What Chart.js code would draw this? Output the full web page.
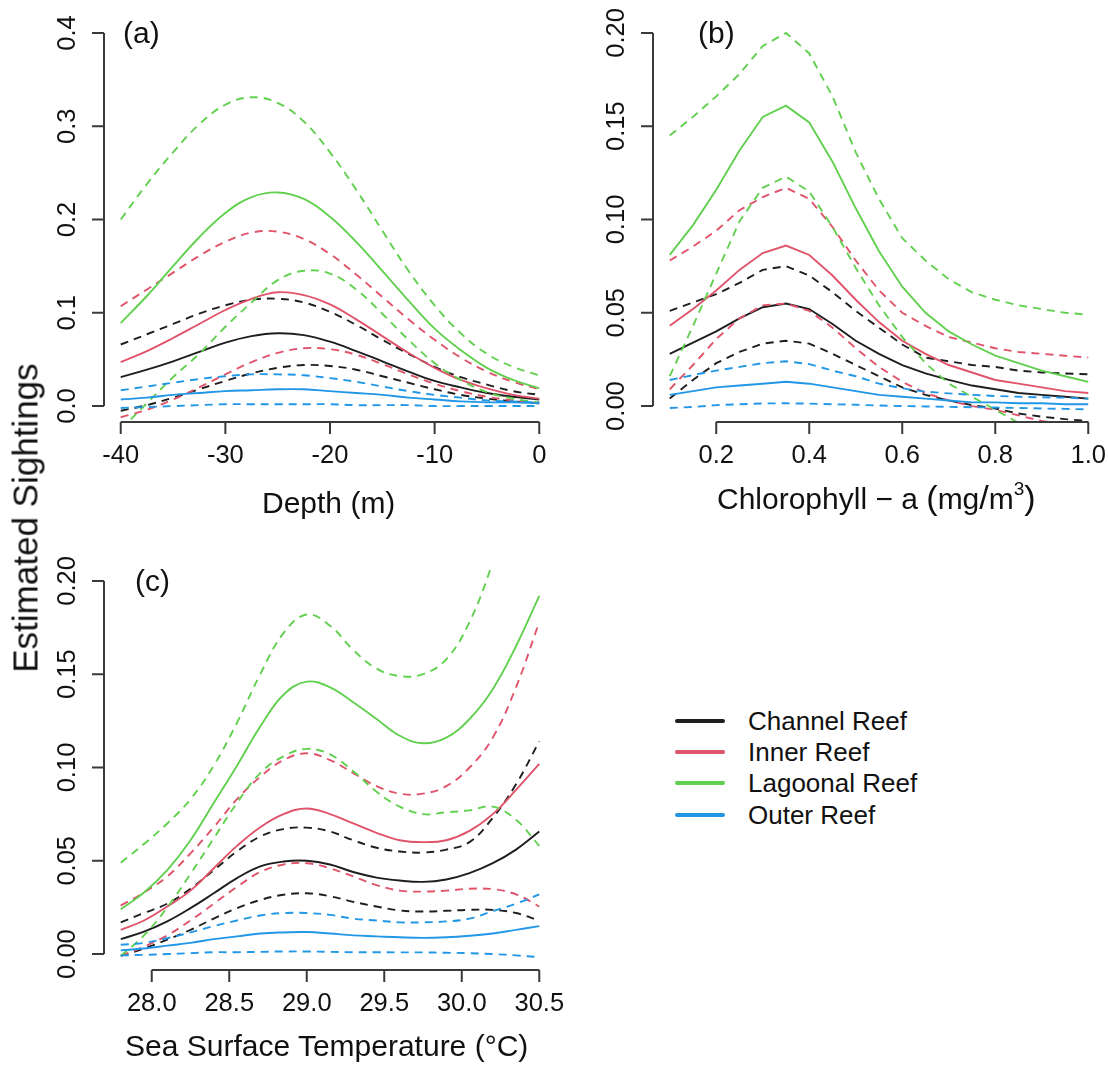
<!DOCTYPE html>
<html><head><meta charset="utf-8">
<script src="https://cdn.jsdelivr.net/npm/chart.js@4.4.1/dist/chart.umd.min.js"></script>
<style>
html,body{margin:0;padding:0;background:#fff;}
#wrap{position:relative;width:1108px;height:1068px;overflow:hidden;font-family:"Liberation Sans",Arial,Helvetica,sans-serif;color:#111;}
canvas{position:absolute;}
.t{position:absolute;white-space:nowrap;line-height:1;transform:translateY(-50%);}
.sw{position:absolute;width:50px;height:4px;border-radius:2px;}
</style></head><body><div id="wrap">
<canvas id="ca" width="560" height="540" style="left:0;top:0"></canvas>
<canvas id="cb" width="548" height="540" style="left:560px;top:0"></canvas>
<canvas id="cc" width="600" height="528" style="left:0;top:540px"></canvas>
<div class="t" style="left:123px;top:33px;font-size:30px">(a)</div>
<div class="t" style="left:698px;top:33px;font-size:30px">(b)</div>
<div class="t" style="left:135px;top:581px;font-size:30px">(c)</div>
<div class="t" style="left:262px;top:503px;font-size:30px">Depth (m)</div>
<div class="t" style="left:717px;top:496px;font-size:30px">Chlorophyll − a <span style="font-size:34px">(</span>mg<span style="font-size:34px">/</span>m<sup style="font-size:19px;vertical-align:14px">3</sup><span style="font-size:34px">)</span></div>
<div class="t" style="left:125px;top:1046px;font-size:30px">Sea Surface Temperature (°C)</div>
<div style="position:absolute;left:25px;top:518px;width:0;height:0;">
  <div style="position:absolute;left:0;top:0;transform:translate(-50%,-50%) rotate(-90deg);white-space:nowrap;font-size:35px;line-height:1;">Estimated Sightings</div>
</div>
<div id="legend"></div>
</div>
<script>
// ---------- categories / x values ----------
const reefNames = ["Channel Reef", "Inner Reef", "Lagoonal Reef", "Outer Reef"];
const reefColors = ["#1e1e1e", "#DF536B", "#61D04F", "#2297E6"];

const depthX = [-40,-37.5,-35,-32.5,-30,-27.5,-25,-22.5,-20,-17.5,-15,-12.5,-10,-7.5,-5,-2.5,0];
const chlX = [0.1,0.15,0.2,0.25,0.3,0.35,0.4,0.45,0.5,0.55,0.6,0.65,0.7,0.75,0.8,0.85,0.9,0.95,1.0];
const sstX = [27.8,27.95,28.1,28.25,28.4,28.55,28.7,28.85,29.0,29.15,29.3,29.45,29.6,29.75,29.9,30.05,30.2,30.35,30.5];

// ---------- tick labels ----------
const depthTicks = [-40,-30,-20,-10,0];
const depthTickLabels = ["-40","-30","-20","-10","0"];
const depthYTicks = [0,0.1,0.2,0.3,0.4];
const depthYTickLabels = ["0.0","0.1","0.2","0.3","0.4"];
const chlTicks = [0.2,0.4,0.6,0.8,1.0];
const chlTickLabels = ["0.2","0.4","0.6","0.8","1.0"];
const chlYTicks = [0,0.05,0.1,0.15,0.2];
const chlYTickLabels = ["0.00","0.05","0.10","0.15","0.20"];
const sstTicks = [28.0,28.5,29.0,29.5,30.0,30.5];
const sstTickLabels = ["28.0","28.5","29.0","29.5","30.0","30.5"];
const sstYTicks = [0,0.05,0.1,0.15,0.2];
const sstYTickLabels = ["0.00","0.05","0.10","0.15","0.20"];

// ---------- (a) Depth ----------
const depthChannelFit = [0.031,0.039,0.048,0.058,0.068,0.075,0.078,0.076,0.069,0.059,0.048,0.037,0.027,0.020,0.014,0.010,0.007];
const depthChannelHi  = [0.066,0.077,0.088,0.099,0.108,0.114,0.115,0.111,0.101,0.087,0.071,0.056,0.042,0.031,0.023,0.016,0.012];
const depthChannelLo  = [-0.005,0.001,0.009,0.018,0.027,0.035,0.041,0.044,0.043,0.039,0.032,0.025,0.018,0.012,0.008,0.005,0.003];
const depthInnerFit   = [0.047,0.059,0.073,0.088,0.103,0.115,0.122,0.119,0.109,0.093,0.075,0.057,0.041,0.028,0.019,0.012,0.008];
const depthInnerHi    = [0.107,0.125,0.143,0.161,0.176,0.186,0.187,0.179,0.163,0.141,0.117,0.093,0.071,0.052,0.037,0.026,0.018];
const depthInnerLo    = [-0.012,-0.004,0.007,0.020,0.034,0.047,0.057,0.062,0.061,0.055,0.045,0.034,0.024,0.016,0.010,0.006,0.003];
const depthLagoonFit  = [0.089,0.118,0.150,0.181,0.207,0.224,0.229,0.222,0.203,0.176,0.145,0.113,0.083,0.060,0.041,0.028,0.019];
const depthLagoonHi   = [0.200,0.238,0.272,0.302,0.323,0.331,0.325,0.305,0.272,0.232,0.188,0.145,0.108,0.078,0.056,0.042,0.033];
const depthLagoonLo   = [-0.025,0.003,0.031,0.056,0.085,0.111,0.135,0.145,0.142,0.125,0.099,0.071,0.046,0.028,0.015,0.008,0.004];
const depthOuterFit   = [0.007,0.009,0.012,0.014,0.016,0.017,0.018,0.018,0.016,0.014,0.012,0.009,0.007,0.005,0.004,0.004,0.003];
const depthOuterHi    = [0.017,0.021,0.025,0.029,0.032,0.034,0.034,0.033,0.030,0.026,0.021,0.016,0.012,0.009,0.006,0.005,0.004];
const depthOuterLo    = [-0.002,-0.001,0.000,0.001,0.002,0.002,0.002,0.002,0.002,0.001,0.001,0.001,0.000,0.000,0.000,0.000,0.000];

// ---------- (b) Chlorophyll-a ----------
const chlChannelFit = [0.028,0.034,0.040,0.047,0.053,0.055,0.052,0.044,0.035,0.028,0.022,0.0175,0.014,0.011,0.009,0.007,0.006,0.005,0.004];
const chlChannelHi  = [0.051,0.0555,0.060,0.066,0.073,0.075,0.070,0.061,0.051,0.042,0.033,0.026,0.024,0.022,0.021,0.019,0.018,0.0175,0.017];
const chlChannelLo  = [0.004,0.014,0.023,0.029,0.0335,0.035,0.0335,0.028,0.022,0.016,0.010,0.006,0.003,0.0005,-0.0013,-0.004,-0.0057,-0.007,-0.008];
const chlInnerFit   = [0.043,0.052,0.062,0.073,0.082,0.086,0.081,0.070,0.057,0.045,0.035,0.028,0.022,0.018,0.014,0.012,0.010,0.008,0.007];
const chlInnerHi    = [0.078,0.0855,0.094,0.105,0.112,0.117,0.111,0.096,0.078,0.062,0.050,0.043,0.037,0.034,0.031,0.029,0.028,0.027,0.026];
const chlInnerLo    = [0.009,0.022,0.036,0.047,0.054,0.055,0.051,0.042,0.031,0.021,0.013,0.007,0.003,0.000,-0.002,-0.005,-0.008,-0.010,-0.012];
const chlLagoonFit  = [0.081,0.097,0.116,0.137,0.155,0.161,0.152,0.131,0.106,0.083,0.064,0.050,0.040,0.033,0.027,0.023,0.019,0.016,0.013];
const chlLagoonHi   = [0.145,0.155,0.166,0.178,0.193,0.200,0.189,0.166,0.136,0.111,0.090,0.078,0.068,0.061,0.057,0.054,0.052,0.050,0.049];
const chlLagoonLo   = [0.016,0.043,0.071,0.099,0.117,0.123,0.115,0.096,0.074,0.054,0.037,0.023,0.012,0.005,-0.002,-0.009,-0.016,-0.022,-0.028];
const chlOuterFit   = [0.006,0.008,0.010,0.011,0.012,0.013,0.012,0.010,0.008,0.006,0.005,0.004,0.003,0.002,0.002,0.0015,0.0015,0.001,0.001];
const chlOuterHi    = [0.014,0.0166,0.019,0.021,0.023,0.024,0.0225,0.019,0.016,0.012,0.0095,0.0077,0.0068,0.006,0.0054,0.005,0.0047,0.0045,0.004];
const chlOuterLo    = [-0.001,-0.0005,0.0005,0.001,0.0014,0.0015,0.0013,0.001,0.0007,0.0003,0.0,-0.0002,-0.0004,-0.0006,-0.0008,-0.001,-0.0013,-0.0015,-0.0018];

// ---------- (c) Sea surface temperature ----------
const sstChannelFit = [0.008,0.012,0.0175,0.0246,0.0326,0.0407,0.047,0.0496,0.050,0.048,0.044,0.041,0.0394,0.0387,0.040,0.0434,0.0487,0.056,0.0657];
const sstChannelHi  = [0.017,0.022,0.027,0.035,0.045,0.055,0.063,0.067,0.0678,0.0657,0.061,0.057,0.055,0.0544,0.056,0.060,0.073,0.091,0.114];
const sstChannelLo  = [-0.001,0.003,0.0077,0.013,0.019,0.0246,0.029,0.0318,0.0326,0.031,0.028,0.0255,0.0234,0.0228,0.0232,0.0237,0.0237,0.022,0.018];
const sstInnerFit   = [0.013,0.018,0.0255,0.034,0.046,0.058,0.068,0.075,0.078,0.075,0.070,0.065,0.061,0.060,0.061,0.066,0.075,0.088,0.102];
const sstInnerHi    = [0.026,0.033,0.0416,0.054,0.068,0.083,0.095,0.104,0.1076,0.104,0.097,0.090,0.086,0.086,0.090,0.100,0.116,0.143,0.178];
const sstInnerLo    = [-0.001,0.004,0.010,0.018,0.027,0.036,0.044,0.048,0.0487,0.046,0.0416,0.037,0.034,0.0335,0.034,0.035,0.0348,0.032,0.0255];
const sstLagoonFit  = [0.024,0.033,0.045,0.061,0.081,0.101,0.122,0.139,0.146,0.143,0.135,0.126,0.117,0.113,0.116,0.126,0.142,0.165,0.192];
const sstLagoonHi   = [0.049,0.059,0.070,0.083,0.101,0.124,0.150,0.172,0.182,0.176,0.163,0.153,0.149,0.150,0.158,0.178,0.210,0.250,0.290];
const sstLagoonLo   = [-0.001,0.010,0.025,0.043,0.062,0.081,0.097,0.106,0.110,0.107,0.098,0.087,0.079,0.075,0.076,0.077,0.079,0.072,0.058];
const sstOuterFit   = [0.002,0.003,0.0045,0.006,0.008,0.0095,0.011,0.0116,0.0118,0.011,0.010,0.0095,0.009,0.0087,0.009,0.0098,0.011,0.013,0.015];
const sstOuterHi    = [0.005,0.006,0.0085,0.0116,0.015,0.018,0.0207,0.022,0.022,0.021,0.019,0.018,0.017,0.017,0.0175,0.019,0.023,0.027,0.032];
const sstOuterLo    = [-0.0007,-0.0004,0.0,0.0005,0.001,0.001,0.0012,0.0014,0.0014,0.0012,0.001,0.001,0.0009,0.0009,0.0007,0.0005,0.0,-0.0007,-0.0016];

// ---------- build ----------
const FONT = '"Liberation Sans", Arial, Helvetica, sans-serif';
const AXIS_COLOR = '#3a3a3a';

function toXY(xs, ys){ return xs.map((x,i)=>({x:x, y:ys[i]})); }

function makeDatasets(xs, series, tension){
  const ds = [];
  for (let r = series.length - 1; r >= 0; r--) {
    const [fit, hi, lo] = series[r];
    const c = reefColors[r];
    ds.push({label: reefNames[r]+' upper', data: toXY(xs, hi), borderColor: c, borderWidth: 1.9, borderDash: [8,6], pointRadius: 0, tension: tension, fill: false});
    ds.push({label: reefNames[r]+' lower', data: toXY(xs, lo), borderColor: c, borderWidth: 1.9, borderDash: [8,6], pointRadius: 0, tension: tension, fill: false});
    ds.push({label: reefNames[r], data: toXY(xs, fit), borderColor: c, borderWidth: 1.9, pointRadius: 0, tension: tension, fill: false});
  }
  return ds;
}

function rAxes(xt, xl, yt, yl){
  return {
    id: 'rAxes',
    afterDraw(chart){
      const {ctx, chartArea, scales} = chart;
      const xs = scales.x, ys = scales.y;
      const TICK = 12;
      ctx.save();
      ctx.strokeStyle = AXIS_COLOR; ctx.lineWidth = 2; ctx.lineCap = 'butt';
      const by = chartArea.bottom + 1, lx = chartArea.left;
      ctx.beginPath();
      ctx.moveTo(xs.getPixelForValue(xt[0]), by);
      ctx.lineTo(xs.getPixelForValue(xt[xt.length-1]), by);
      xt.forEach(v => { const p = xs.getPixelForValue(v); ctx.moveTo(p, by); ctx.lineTo(p, by + TICK); });
      ctx.moveTo(lx, ys.getPixelForValue(yt[0]));
      ctx.lineTo(lx, ys.getPixelForValue(yt[yt.length-1]));
      yt.forEach(v => { const p = ys.getPixelForValue(v); ctx.moveTo(lx, p); ctx.lineTo(lx - TICK, p); });
      ctx.stroke();
      ctx.fillStyle = '#111';
      ctx.font = '25.5px ' + FONT;
      ctx.textAlign = 'center'; ctx.textBaseline = 'middle';
      xt.forEach((v,i) => ctx.fillText(xl[i], xs.getPixelForValue(v), by + 34));
      yt.forEach((v,i) => {
        ctx.save();
        ctx.translate(lx - 36, ys.getPixelForValue(v));
        ctx.rotate(-Math.PI/2);
        ctx.fillText(yl[i], 0, 0);
        ctx.restore();
      });
      ctx.restore();
    }
  };
}

function makeChart(id, xs, series, tension, xr, yr, pad, ticks){
  return new Chart(document.getElementById(id), {
    type: 'line',
    data: { datasets: makeDatasets(xs, series, tension) },
    options: {
      responsive: false, animation: false, devicePixelRatio: 1,
      layout: { padding: pad },
      plugins: { legend: {display: false}, tooltip: {enabled: false}, title: {display: false} },
      events: [],
      scales: {
        x: { type: 'linear', min: xr[0], max: xr[1], display: false },
        y: { type: 'linear', min: yr[0], max: yr[1], display: false }
      }
    },
    plugins: [rAxes(ticks[0], ticks[1], ticks[2], ticks[3])]
  });
}

makeChart('ca', depthX, [
  [depthChannelFit, depthChannelHi, depthChannelLo],
  [depthInnerFit, depthInnerHi, depthInnerLo],
  [depthLagoonFit, depthLagoonHi, depthLagoonLo],
  [depthOuterFit, depthOuterHi, depthOuterLo]
], 0.4, [-41.6, 1.6], [-0.016, 0.416], {left:104, top:18, right:4, bottom:119},
  [depthTicks, depthTickLabels, depthYTicks, depthYTickLabels]);

makeChart('cb', chlX, [
  [chlChannelFit, chlChannelHi, chlChannelLo],
  [chlInnerFit, chlInnerHi, chlInnerLo],
  [chlLagoonFit, chlLagoonHi, chlLagoonLo],
  [chlOuterFit, chlOuterHi, chlOuterLo]
], 0, [0.064, 1.036], [-0.008, 0.208], {left:93, top:18, right:3, bottom:119},
  [chlTicks, chlTickLabels, chlYTicks, chlYTickLabels]);

makeChart('cc', sstX, [
  [sstChannelFit, sstChannelHi, sstChannelLo],
  [sstInnerFit, sstInnerHi, sstInnerLo],
  [sstLagoonFit, sstLagoonHi, sstLagoonLo],
  [sstOuterFit, sstOuterHi, sstOuterLo]
], 0.4, [27.692, 30.608], [-0.008, 0.208], {left:104, top:26, right:44, bottom:99},
  [sstTicks, sstTickLabels, sstYTicks, sstYTickLabels]);

// legend
const lg = document.getElementById('legend');
const legendY = [721, 752, 783, 815];
reefNames.forEach((n, i) => {
  const s = document.createElement('div');
  s.className = 'sw'; s.style.left = '675px'; s.style.top = (legendY[i]-2) + 'px'; s.style.background = reefColors[i];
  lg.appendChild(s);
  const t = document.createElement('div');
  t.className = 't'; t.style.left = '748px'; t.style.top = legendY[i] + 'px'; t.style.fontSize = '26px';
  t.textContent = n;
  lg.appendChild(t);
});
</script>
</body></html>
